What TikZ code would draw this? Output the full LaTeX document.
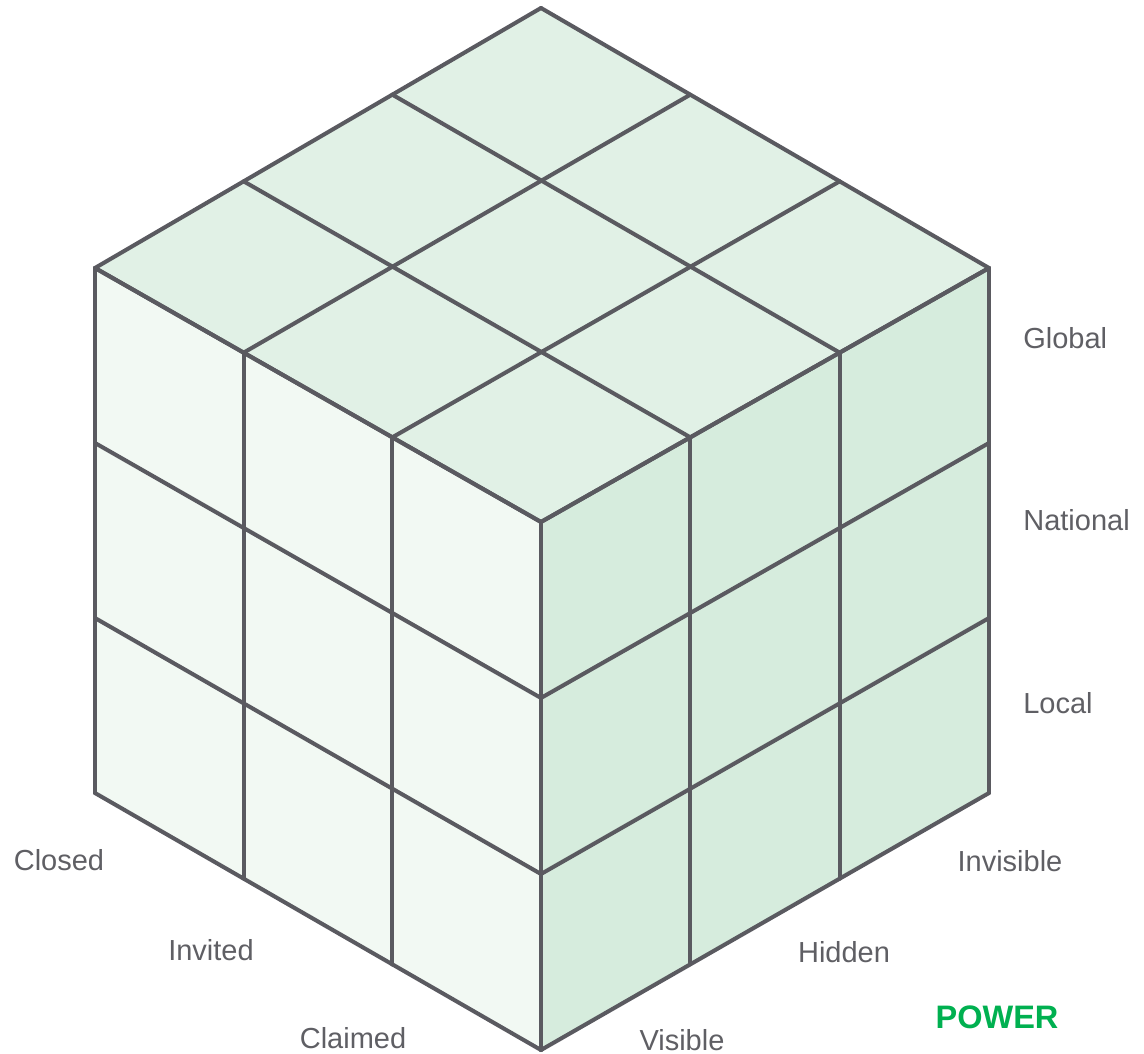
\documentclass[tikz,border=0pt]{standalone}
\usepackage{fontspec}
\setmainfont{Liberation Sans}
\usetikzlibrary{calc}
\definecolor{cubeline}{RGB}{90,90,96}
\definecolor{topface}{RGB}{225,241,230}
\definecolor{leftface}{RGB}{242,249,243}
\definecolor{rightface}{RGB}{214,236,221}
\definecolor{labelgray}{RGB}{95,95,100}
\definecolor{powergreen}{RGB}{0,176,80}
\tikzset{
  cubegrid/.style={draw=cubeline, line width=2.3pt, line cap=round, line join=round},
  axislabel/.style={font=\fontsize{16.5}{19}\selectfont, text=labelgray, inner sep=0pt},
  titlelabel/.style={font=\fontsize{18.5}{21}\selectfont\bfseries, text=powergreen, inner sep=0pt}
}

\begin{document}
\begin{tikzpicture}[x=0.02cm,y=-0.02cm]
\useasboundingbox (0,0) rectangle (1144,1054);
\coordinate (front) at (541,522);
\coordinate (left) at (95,268);
\coordinate (right) at (989,268);
\coordinate (top) at (541,8);
\coordinate (leftbot) at (95,793);
\coordinate (rightbot) at (989,793);
\coordinate (bottom) at (541,1050);
\fill[topface] (front) -- (left) -- (top) -- (right) -- cycle;
\fill[leftface] (front) -- (left) -- (leftbot) -- (bottom) -- cycle;
\fill[rightface] (front) -- (right) -- (rightbot) -- (bottom) -- cycle;
\foreach \t in {0,0.3333,0.6667,1} {
  \draw[cubegrid] ($(front)!\t!(right)$) -- ($(left)!\t!(top)$);
  \draw[cubegrid] ($(front)!\t!(left)$) -- ($(right)!\t!(top)$);
  \draw[cubegrid] ($(front)!\t!(left)$) -- ($(bottom)!\t!(leftbot)$);
  \draw[cubegrid] ($(front)!\t!(bottom)$) -- ($(left)!\t!(leftbot)$);
  \draw[cubegrid] ($(front)!\t!(right)$) -- ($(bottom)!\t!(rightbot)$);
  \draw[cubegrid] ($(front)!\t!(bottom)$) -- ($(right)!\t!(rightbot)$);
}
\node[axislabel, anchor=west] (global) at (1023,338) {Global};
\node[axislabel, anchor=west] (national) at (1023,520) {National};
\node[axislabel, anchor=west] (local) at (1023,703) {Local};
\node[axislabel] (invisible) at (1010,861) {Invisible};
\node[axislabel] (hidden) at (844,952) {Hidden};
\node[axislabel] (visible) at (682,1040) {Visible};
\node[axislabel] (closed) at (59,860) {Closed};
\node[axislabel] (invited) at (211,950) {Invited};
\node[axislabel] (claimed) at (353,1038) {Claimed};
\node[titlelabel] (power) at (997,1017) {POWER};
\end{tikzpicture}
\end{document}
